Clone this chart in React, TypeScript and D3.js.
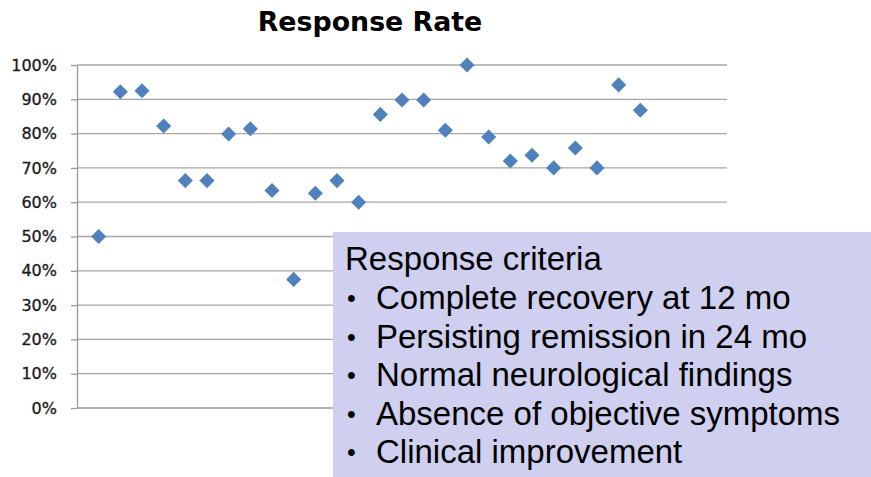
import React, { useEffect, useRef } from "react";
import * as d3 from "d3";

// response rate per case (x = case number 1..26)
const caseNumbers = d3.range(1, 27);
const responseRates = [
  50, 92.2, 92.5, 82.2, 66.3, 66.3, 79.9, 81.4, 63.4, 37.5, 62.6, 66.3, 60,
  85.6, 89.8, 89.8, 81, 100, 79, 72, 73.7, 70, 75.8, 70, 94.2, 86.8,
];
const yTicks = [0, 10, 20, 30, 40, 50, 60, 70, 80, 90, 100];
const criteriaTitle = "Response criteria";
const criteriaItems = [
  "Complete recovery at 12 mo",
  "Persisting remission in 24 mo",
  "Normal neurological findings",
  "Absence of objective symptoms",
  "Clinical improvement",
];

export default function App() {
  const ref = useRef<SVGSVGElement | null>(null);
  const width = 871;
  const height = 477;
  const marginTop = 65;
  const marginBottom = 408;
  const marginLeft = 77;
  const marginRight = 727;

  useEffect(() => {
    const x = d3.scaleLinear().domain([0, 30]).range([marginLeft, marginRight]);
    const y = d3.scaleLinear().domain([0, 100]).range([marginBottom, marginTop]);

    const svg = d3.select(ref.current);
    svg.selectAll("*").remove();
    svg
      .attr("width", width)
      .attr("height", height)
      .attr("viewBox", [0, 0, width, height]);

    svg.append("rect").attr("width", width).attr("height", height).attr("fill", "white");

    // title
    svg
      .append("text")
      .attr("x", 370)
      .attr("y", 31)
      .attr("text-anchor", "middle")
      .attr("font-family", "DejaVu Sans")
      .attr("font-weight", "bold")
      .attr("font-size", 26.8)
      .attr("fill", "#000")
      .text("Response Rate");

    // gridlines
    svg
      .append("g")
      .selectAll("line")
      .data(yTicks.filter((d) => d > 0))
      .join("line")
      .attr("x1", marginLeft)
      .attr("x2", marginRight)
      .attr("y1", (d) => y(d))
      .attr("y2", (d) => y(d))
      .attr("stroke", "#a6a6a6")
      .attr("stroke-width", 1.3);

    // y axis
    const axis = svg
      .append("g")
      .attr("transform", `translate(${marginLeft},0)`)
      .call(
        d3
          .axisLeft(y)
          .tickValues(yTicks)
          .tickSize(6)
          .tickSizeOuter(0)
          .tickPadding(14)
          .tickFormat((d) => `${d}%`)
      );
    axis.select(".domain").attr("stroke", "#999").attr("stroke-width", 1.3);
    axis.selectAll(".tick line").attr("stroke", "#999").attr("stroke-width", 1.3);
    axis
      .selectAll("text")
      .attr("font-family", "DejaVu Sans")
      .attr("font-size", 16)
      .attr("fill", "#1a1a1a")
      .attr("stroke", "#1a1a1a")
      .attr("stroke-width", 0.3);

    // bottom axis line
    svg
      .append("line")
      .attr("x1", marginLeft)
      .attr("x2", marginRight)
      .attr("y1", y(0))
      .attr("y2", y(0))
      .attr("stroke", "#999")
      .attr("stroke-width", 1.3);

    // markers
    const diamond = d3.symbol().type(d3.symbolDiamond2).size(145);
    svg
      .append("g")
      .selectAll("path")
      .data(caseNumbers)
      .join("path")
      .attr("d", diamond)
      .attr("transform", (d, i) => `translate(${x(d)},${y(responseRates[i])})`)
      .attr("fill", "#4f81bd");

    // criteria box overlay
    const box = svg.append("g");
    box
      .append("rect")
      .attr("x", 333)
      .attr("y", 232)
      .attr("width", width - 333)
      .attr("height", height - 232)
      .attr("fill", "#cfcfef");
    box
      .append("text")
      .attr("x", 345)
      .attr("y", 270)
      .attr("font-family", "Liberation Sans")
      .attr("font-size", 33)
      .attr("fill", "#000")
      .text(criteriaTitle);
    const items = box
      .selectAll("g.item")
      .data(criteriaItems)
      .join("g")
      .attr("class", "item")
      .attr("transform", (d, i) => `translate(0,${309 + i * 38.6})`);
    items
      .append("text")
      .attr("x", 347)
      .attr("y", -2)
      .attr("font-family", "Liberation Sans")
      .attr("font-size", 25)
      .attr("fill", "#000")
      .text("•");
    items
      .append("text")
      .attr("x", 376)
      .attr("font-family", "Liberation Sans")
      .attr("font-size", 33)
      .attr("fill", "#000")
      .text((d) => d);
  }, []);

  return (
    <div style={{ position: "absolute", left: 0, top: 0 }}>
      <svg ref={ref}></svg>
    </div>
  );
}
